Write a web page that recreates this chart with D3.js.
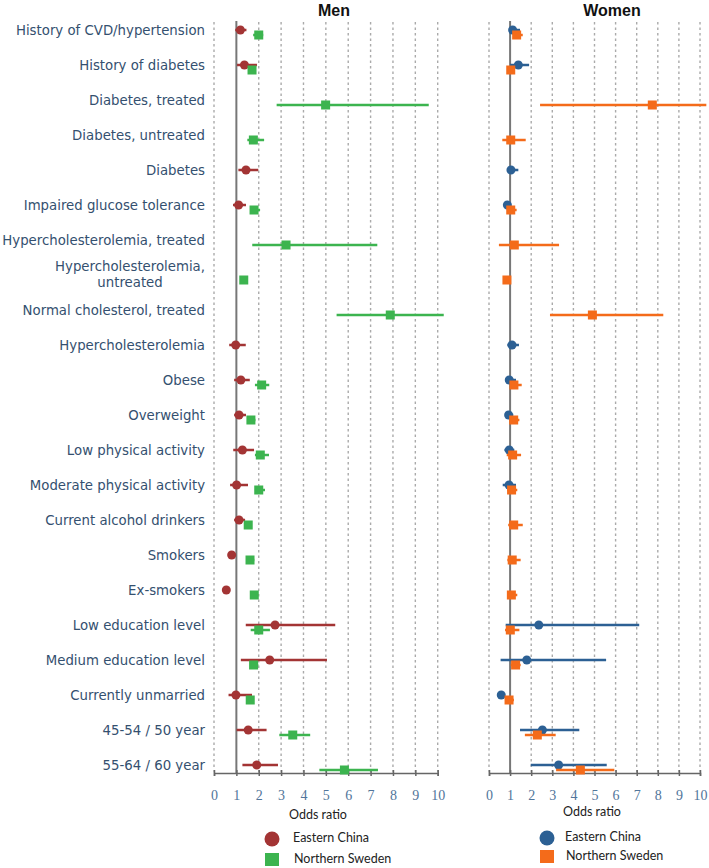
<!DOCTYPE html>
<html><head><meta charset="utf-8">
<script src="https://cdn.jsdelivr.net/npm/d3@7"></script>
<style>body{margin:0;background:#fff}svg{display:block}</style>
</head><body>
<svg id="c" width="709" height="868"></svg>
<script>
const categories = [
  "History of CVD/hypertension","History of diabetes","Diabetes, treated","Diabetes, untreated",
  "Diabetes","Impaired glucose tolerance","Hypercholesterolemia, treated","Hypercholesterolemia,\nuntreated",
  "Normal cholesterol, treated","Hypercholesterolemia","Obese","Overweight","Low physical activity",
  "Moderate physical activity","Current alcohol drinkers","Smokers","Ex-smokers","Low education level",
  "Medium education level","Currently unmarried","45-54 / 50 year","55-64 / 60 year"
];
const ticks = [0,1,2,3,4,5,6,7,8,9,10];
// [odds ratio, lower CI, upper CI]
const menChina = [
  [1.18,0.95,1.45],[1.36,1.03,1.92],null,null,[1.43,1.09,1.98],[1.1,0.85,1.43],null,null,null,
  [0.97,0.68,1.42],[1.2,0.9,1.6],[1.12,0.9,1.43],[1.27,0.86,1.79],[1.01,0.72,1.52],[1.12,0.9,1.39],
  [0.79,0.62,0.98],[0.55,0.45,0.66],[2.73,1.42,5.42],[2.49,1.2,5.05],[0.98,0.65,1.7],[1.53,1.01,2.35],[1.91,1.27,2.86]
];
const menSweden = [
  [2.0,1.75,2.2],[1.7,1.55,1.85],[4.99,2.8,9.6],[1.76,1.49,2.24],null,[1.79,1.64,2.06],[3.22,1.71,7.3],
  [1.33,1.33,1.33],[7.88,5.48,10.27],null,[2.13,1.83,2.47],[1.65,1.48,1.85],[2.07,1.83,2.46],[2.0,1.83,2.28],
  [1.53,1.4,1.65],[1.61,1.45,1.8],[1.8,1.65,1.95],[2.0,1.64,2.5],[1.77,1.64,1.98],[1.62,1.5,1.75],[3.52,2.92,4.3],[5.83,4.71,7.33]
];
const womenChina = [
  [1.12,0.96,1.47],[1.39,1.0,1.9],null,null,[1.04,0.92,1.39],[0.87,0.75,1.0],null,null,null,
  [1.09,0.87,1.42],[0.96,0.8,1.28],[0.93,0.8,1.15],[0.96,0.73,1.2],[0.95,0.65,1.28],null,
  null,null,[2.36,0.79,7.12],[1.79,0.55,5.55],[0.58,0.5,0.7],[2.53,1.47,4.28],[3.3,1.98,5.58]
];
const womenSweden = [
  [1.31,1.15,1.6],[1.03,0.9,1.15],[7.74,2.42,10.3],[1.03,0.63,1.74],null,[1.03,0.9,1.31],[1.2,0.47,3.32],
  [0.85,0.85,0.85],[4.9,2.89,8.26],null,[1.18,1.0,1.55],[1.17,0.96,1.44],[1.12,0.84,1.52],[1.07,0.87,1.34],
  [1.17,0.91,1.6],[1.1,0.87,1.5],[1.06,0.9,1.34],[1.01,0.76,1.44],[1.26,1.03,1.5],[0.95,0.79,1.18],[2.29,1.7,3.16],[4.33,3.18,5.94]
];
const panels = [
  {title:"Men", range:[214,437.7], titleX:334, china:menChina, sweden:menSweden, cCol:"#a33434", sCol:"#3cb44f",
   odds:318, oddsY:816, legC:[272,839], legS:[265,853], legTx:293},
  {title:"Women", range:[489,700], titleX:612, china:womenChina, sweden:womenSweden, cCol:"#2c6094", sCol:"#f46b1a",
   odds:592, oddsY:813, legC:[547,838], legS:[540,850], legTx:565}
];

const svg = d3.select("#c");
const y = d3.scaleBand().domain(d3.range(categories.length)).range([15,785]);
const yc = i => y(i) + y.bandwidth()/2;
const gridTop = 22, axisY = 773;

// category labels
const lab = svg.append("g").attr("font-family","DejaVu Sans, Verdana, sans-serif")
  .attr("font-size",13.3).attr("fill","#34506f");
categories.forEach((c,i)=>{
  const lines = c.split("\n");
  if(lines.length===1){
    lab.append("text").attr("x",205).attr("y",yc(i)-1.5).attr("text-anchor","end")
      .attr("dominant-baseline","middle").text(c);
  } else {
    const t1 = lab.append("text").attr("x",205).attr("y",yc(i)-10.5).attr("text-anchor","end")
      .attr("dominant-baseline","middle").text(lines[0]);
    const w = t1.node().getComputedTextLength();
    lab.append("text").attr("x",205-w/2).attr("y",yc(i)+5.5).attr("text-anchor","middle")
      .attr("dominant-baseline","middle").text(lines[1]);
  }
});

panels.forEach(p=>{
  const x = d3.scaleLinear().domain([0,10]).range(p.range);
  const g = svg.append("g");
  g.append("text").attr("x",p.titleX).attr("y",16).attr("text-anchor","middle")
    .attr("font-family","Liberation Sans, Arial, sans-serif").attr("font-weight","bold")
    .attr("font-size",16).attr("fill","#111").text(p.title);
  // grid
  g.selectAll("line.grid").data(ticks.filter(t=>t!==1)).join("line")
    .attr("x1",d=>x(d)).attr("x2",d=>x(d)).attr("y1",gridTop).attr("y2",axisY)
    .attr("stroke","#aaa").attr("stroke-width",1.4).attr("stroke-dasharray","2.5,3");
  g.append("line").attr("x1",x(1)).attr("x2",x(1)).attr("y1",gridTop-1).attr("y2",axisY)
    .attr("stroke","#777").attr("stroke-width",2);
  // axis
  const ax = g.append("g").attr("transform",`translate(0,${axisY})`)
    .call(d3.axisBottom(x).tickValues(ticks).tickSizeOuter(0).tickSize(3).tickFormat(d3.format("d")));
  ax.select(".domain").attr("stroke","#666").attr("stroke-width",1.5);
  ax.selectAll(".tick line").attr("y1",-3).attr("y2",3).attr("stroke","#666").attr("stroke-width",1.5);
  ax.selectAll(".tick text").attr("y",17).attr("font-family","Liberation Serif, Times New Roman, serif")
    .attr("font-size",14).attr("fill","#51759a");
  // series
  const series = [{d:p.china,col:p.cCol,off:-2.5,shape:"c"},{d:p.sweden,col:p.sCol,off:2.5,shape:"s"}];
  series.forEach(s=>{
    const rows = s.d.map((v,i)=>v?{i,or:v[0],lo:v[1],hi:v[2]}:null).filter(Boolean);
    g.selectAll(null).data(rows).join("line")
      .attr("x1",d=>x(d.lo)).attr("x2",d=>x(d.hi)).attr("y1",d=>yc(d.i)+s.off).attr("y2",d=>yc(d.i)+s.off)
      .attr("stroke",s.col).attr("stroke-width",2.5);
    if(s.shape==="c"){
      g.selectAll(null).data(rows).join("circle")
        .attr("cx",d=>x(d.or)).attr("cy",d=>yc(d.i)+s.off).attr("r",4.5).attr("fill",s.col);
    } else {
      g.selectAll(null).data(rows).join("rect")
        .attr("x",d=>x(d.or)-4.5).attr("y",d=>yc(d.i)+s.off-4.5).attr("width",9).attr("height",9).attr("fill",s.col);
    }
  });
  // legend
  const lf = "Lato, Open Sans, sans-serif";
  g.append("text").attr("x",p.odds).attr("y",p.oddsY).attr("text-anchor","middle")
    .attr("dominant-baseline","middle").attr("font-family",lf).attr("font-size",12.5).attr("fill","#222").text("Odds ratio");
  g.append("circle").attr("cx",p.legC[0]).attr("cy",p.legC[1]).attr("r",7.5).attr("fill",p.cCol);
  g.append("rect").attr("x",p.legS[0]).attr("y",p.legS[1]).attr("width",14).attr("height",13).attr("fill",p.sCol);
  g.append("text").attr("x",p.legTx).attr("y",p.legC[1]).attr("dominant-baseline","middle")
    .attr("font-family",lf).attr("font-size",12.5).attr("fill","#222").text("Eastern China");
  g.append("text").attr("x",p.legTx+1).attr("y",p.legS[1]+6.5).attr("dominant-baseline","middle")
    .attr("font-family",lf).attr("font-size",12.5).attr("fill","#222").text("Northern Sweden");
});
</script>
</body></html>
